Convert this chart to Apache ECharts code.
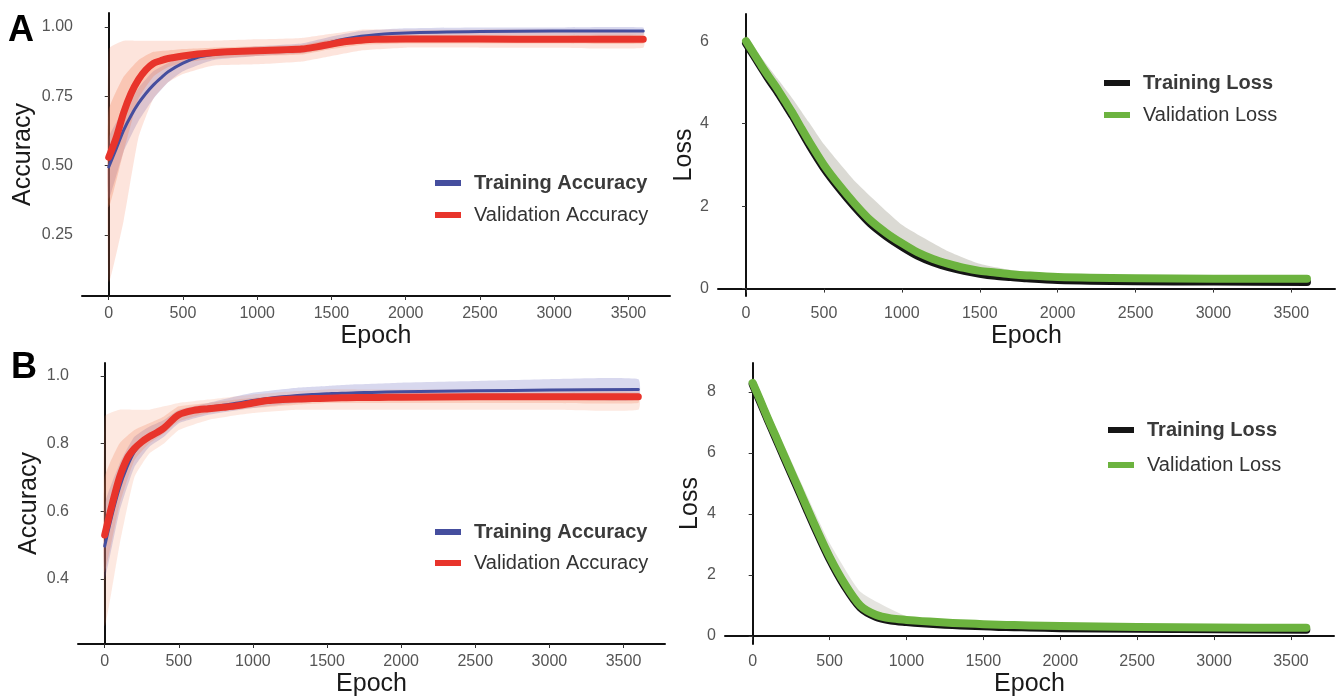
<!DOCTYPE html>
<html>
<head>
<meta charset="utf-8">
<script src="https://cdn.jsdelivr.net/npm/echarts@6/dist/echarts.min.js"></script>
<style>
html,body{margin:0;padding:0;background:#ffffff;}
#chart{width:1336px;height:700px;}
</style>
</head>
<body>
<div id="chart"></div>
<script>
// ---------- data ----------
const epochs = [0,50,100,150,200,250,300,350,400,500,600,700,800,900,1000,1100,1200,1300,1400,1500,1600,1700,1800,2000,2500,3000,3600];
const xTicks = [0,500,1000,1500,2000,2500,3000,3500];
const accTicksA = [0.25,0.5,0.75,1.0];
const lossTicksA = [0,2,4,6];
const accTicksB = [0.4,0.6,0.8,1.0];
const lossTicksB = [0,2,4,6,8];

const trainAccA = [0.495,0.56,0.627,0.68,0.724,0.76,0.79,0.815,0.838,0.869,0.89,0.9,0.905,0.909,0.912,0.915,0.918,0.922,0.93,0.945,0.957,0.966,0.972,0.978,0.983,0.985,0.985];
const valAccA   = [0.53,0.6,0.69,0.76,0.81,0.845,0.868,0.878,0.886,0.895,0.902,0.907,0.91,0.912,0.914,0.916,0.918,0.92,0.928,0.938,0.947,0.952,0.955,0.956,0.956,0.955,0.955];
const trainLossA = [5.95,5.65,5.35,5.05,4.78,4.48,4.18,3.85,3.52,2.92,2.42,1.97,1.57,1.27,1.02,0.8,0.64,0.52,0.43,0.36,0.31,0.28,0.25,0.21,0.18,0.17,0.16];
const valLossA   = [6.0,5.7,5.4,5.12,4.85,4.55,4.25,3.92,3.6,3.0,2.5,2.05,1.65,1.35,1.1,0.88,0.72,0.6,0.5,0.43,0.39,0.35,0.32,0.28,0.25,0.24,0.24];
const trainAccB = [0.497,0.59,0.67,0.73,0.775,0.8,0.82,0.835,0.85,0.885,0.9,0.907,0.913,0.92,0.927,0.933,0.938,0.942,0.945,0.947,0.949,0.95,0.951,0.953,0.956,0.958,0.96];
const valAccB   = [0.53,0.62,0.7,0.755,0.785,0.805,0.82,0.832,0.846,0.885,0.898,0.903,0.907,0.912,0.92,0.927,0.93,0.932,0.933,0.934,0.935,0.936,0.936,0.937,0.938,0.938,0.938];
const trainLossB = [8.25,7.66,7.06,6.48,5.9,5.32,4.75,4.17,3.6,2.52,1.62,0.93,0.63,0.51,0.46,0.42,0.39,0.36,0.34,0.32,0.3,0.29,0.28,0.26,0.24,0.22,0.21];
const valLossB   = [8.3,7.72,7.12,6.55,5.97,5.4,4.83,4.25,3.68,2.6,1.7,1.0,0.7,0.58,0.53,0.49,0.46,0.43,0.41,0.39,0.37,0.36,0.35,0.33,0.3,0.28,0.27];

// spread of the individual runs (ribbons)
const bandEpochs = [0,100,200,300,400,500,700,1000,1300,1500,1700,2000,2500,3000,3600];
const valAccA_outerLo = [0.08,0.3,0.6,0.74,0.8,0.83,0.86,0.865,0.875,0.895,0.915,0.925,0.925,0.925,0.925];
const valAccA_outerHi = [0.92,0.95,0.95,0.95,0.95,0.95,0.95,0.955,0.96,0.975,0.99,0.99,0.99,0.99,0.985];
const valAccA_innerLo = [0.35,0.55,0.74,0.82,0.855,0.87,0.885,0.895,0.9,0.92,0.935,0.94,0.94,0.94,0.94];
const valAccA_innerHi = [0.7,0.82,0.88,0.91,0.915,0.92,0.925,0.93,0.935,0.955,0.965,0.97,0.97,0.97,0.97];
const trainAccA_lo = [0.38,0.55,0.66,0.74,0.8,0.84,0.88,0.895,0.905,0.925,0.95,0.965,0.97,0.97,0.97];
const trainAccA_hi = [0.6,0.7,0.78,0.84,0.87,0.895,0.915,0.93,0.94,0.965,0.985,0.995,0.998,0.998,0.998];
const trainLossA_lo = [5.85,5.25,4.65,4.05,3.45,2.85,1.9,0.98,0.5,0.36,0.28,0.22,0.18,0.16,0.15];
const trainLossA_hi = [6.15,5.6,5.1,4.6,4.05,3.5,2.6,1.55,0.9,0.6,0.45,0.36,0.31,0.29,0.28];
const valAccB_outerLo = [0.26,0.5,0.7,0.77,0.8,0.84,0.87,0.89,0.9,0.9,0.9,0.9,0.9,0.9,0.9];
const valAccB_outerHi = [0.88,0.9,0.9,0.9,0.91,0.92,0.93,0.945,0.955,0.96,0.96,0.96,0.96,0.96,0.96];
const valAccB_innerLo = [0.42,0.62,0.75,0.8,0.83,0.865,0.89,0.905,0.915,0.92,0.92,0.92,0.92,0.92,0.92];
const valAccB_innerHi = [0.7,0.8,0.84,0.86,0.88,0.91,0.92,0.935,0.945,0.948,0.95,0.95,0.95,0.95,0.95];
const trainAccB_lo = [0.4,0.6,0.73,0.79,0.82,0.86,0.885,0.905,0.92,0.925,0.93,0.93,0.93,0.93,0.93];
const trainAccB_hi = [0.62,0.74,0.82,0.85,0.87,0.9,0.92,0.95,0.965,0.97,0.975,0.98,0.985,0.99,0.99];
const trainLossB_lo = [8.15,6.95,5.75,4.6,3.45,2.4,0.85,0.45,0.35,0.32,0.29,0.26,0.23,0.21,0.2];
const trainLossB_hi = [8.5,7.4,6.3,5.2,4.1,3.05,1.45,0.65,0.48,0.44,0.41,0.38,0.34,0.32,0.31];

// ---------- styling ----------
const FONT = "'Liberation Sans', Arial, Helvetica, sans-serif";
const BLUE = '#454e9e', RED = '#e8342b', GREEN = '#6cb33f', BLACK = '#151515';
const ORANGE_BAND = '#f47a4e', BLUE_BAND = '#5a5cb8', GRAY_BAND = '#6f6a52';

function meanLine(name, g, ys, color, width, z) {
  return {
    type: 'line', name: name, xAxisIndex: g, yAxisIndex: g,
    data: epochs.map((e, i) => [e, ys[i]]),
    symbol: 'none', smooth: 0.3, color: color, silent: true,
    lineStyle: { color: color, width: width, cap: 'round', join: 'round' },
    z: z
  };
}
// ribbon between lo and hi, drawn through the axis scales with api.coord
function band(g, lo, hi, color, opacity, z) {
  return {
    type: 'custom', xAxisIndex: g, yAxisIndex: g, silent: true, z: z,
    data: [[bandEpochs[0], lo[0]]],
    renderItem: function (params, api) {
      const top = bandEpochs.map((e, i) => api.coord([e, hi[i]]));
      const bot = bandEpochs.map((e, i) => api.coord([e, lo[i]])).reverse();
      return {
        type: 'polygon',
        shape: { points: top.concat(bot), smooth: 0.15 },
        style: { fill: color, opacity: opacity }
      };
    }
  };
}

const grids = [
  { left: 82, top: 13, width: 588, height: 283 },
  { left: 718, top: 14, width: 617, height: 282 },
  { left: 78, top: 363, width: 587, height: 281 },
  { left: 725, top: 363, width: 609, height: 281 }
];
const yRanges = [[0.03, 1.05], [-0.18, 6.66], [0.208, 1.038], [-0.26, 8.95]];
const yTickSets = [accTicksA, lossTicksA, accTicksB, lossTicksB];
const yNames = ['Accuracy', 'Loss', 'Accuracy', 'Loss'];
const yNameGaps = [46, 20, 36, 22];
const yFormat = [v => v.toFixed(2), v => String(v), v => v.toFixed(1), v => String(v)];

const axisLineStyle = { show: true, lineStyle: { color: '#111', width: 2 } };

const xAxes = grids.map((g, i) => ({
  type: 'value', gridIndex: i, min: -180, max: 3780,
  name: 'Epoch', nameLocation: 'middle', nameGap: 28,
  nameTextStyle: { fontSize: 25, color: '#1a1a1a', fontFamily: FONT },
  axisLine: axisLineStyle,
  axisTick: { show: true, customValues: xTicks, length: 4, lineStyle: { color: '#333', width: 1 } },
  axisLabel: { customValues: xTicks, fontSize: 16, color: '#555', margin: 10, fontFamily: FONT,
               formatter: v => String(v) },
  splitLine: { show: false }
}));
const yAxes = grids.map((g, i) => ({
  type: 'value', gridIndex: i, min: yRanges[i][0], max: yRanges[i][1],
  name: yNames[i], nameLocation: 'middle', nameGap: yNameGaps[i],
  nameTextStyle: { fontSize: 25, color: '#1a1a1a', fontFamily: FONT },
  axisLine: axisLineStyle,
  axisTick: { show: true, customValues: yTickSets[i], length: 4, lineStyle: { color: '#333', width: 1 } },
  axisLabel: { customValues: yTickSets[i], fontSize: 16, color: '#555', margin: 9, fontFamily: FONT,
               formatter: yFormat[i] },
  splitLine: { show: false }
}));

function legendFmt(name) {
  return name.indexOf('Training') === 0 ? '{b|' + name + '}' : '{n|' + name + '}';
}
function legend(left, top, gap, names) {
  return {
    orient: 'vertical', left: left, top: top, itemGap: gap, padding: 0,
    itemWidth: 26, itemHeight: 6, icon: 'rect', selectedMode: false,
    data: names, formatter: legendFmt,
    textStyle: {
      fontFamily: FONT, fontSize: 20, lineHeight: 22, color: '#333',
      rich: {
        b: { fontFamily: FONT, fontSize: 20, lineHeight: 22, fontWeight: 'bold', color: '#3a3a3a', padding: [0, 0, 0, 8] },
        n: { fontFamily: FONT, fontSize: 20, lineHeight: 22, color: '#333', padding: [0, 0, 0, 8] }
      }
    }
  };
}

const series = [].concat(
  // A accuracy
  [band(0, trainAccA_lo, trainAccA_hi, BLUE_BAND, 0.24, 1),
   band(0, valAccA_outerLo, valAccA_outerHi, ORANGE_BAND, 0.2, 2),
   band(0, valAccA_innerLo, valAccA_innerHi, ORANGE_BAND, 0.28, 2),
   meanLine('Training Accuracy', 0, trainAccA, BLUE, 3, 5),
   meanLine('Validation Accuracy', 0, valAccA, RED, 7, 6)],
  // A loss
  [band(1, trainLossA_lo, trainLossA_hi, GRAY_BAND, 0.25, 1),
   meanLine('Training Loss', 1, trainLossA, BLACK, 8, 5),
   meanLine('Validation Loss', 1, valLossA, GREEN, 8, 6)],
  // B accuracy
  [band(2, trainAccB_lo, trainAccB_hi, BLUE_BAND, 0.24, 1),
   band(2, valAccB_outerLo, valAccB_outerHi, ORANGE_BAND, 0.17, 2),
   band(2, valAccB_innerLo, valAccB_innerHi, ORANGE_BAND, 0.24, 2),
   meanLine('Training Accuracy', 2, trainAccB, BLUE, 3, 5),
   meanLine('Validation Accuracy', 2, valAccB, RED, 7, 6)],
  // B loss
  [band(3, trainLossB_lo, trainLossB_hi, GRAY_BAND, 0.18, 1),
   meanLine('Training Loss', 3, trainLossB, BLACK, 8, 5),
   meanLine('Validation Loss', 3, valLossB, GREEN, 8, 6)]
);

const option = {
  backgroundColor: '#ffffff',
  animation: false,
  textStyle: { fontFamily: FONT },
  grid: grids,
  xAxis: xAxes,
  yAxis: yAxes,
  legend: [
    legend(435, 172, 10, ['Training Accuracy', 'Validation Accuracy']),
    legend(1104, 72, 10, ['Training Loss', 'Validation Loss']),
    legend(435, 521, 9, ['Training Accuracy', 'Validation Accuracy']),
    legend(1108, 419, 13, ['Training Loss', 'Validation Loss'])
  ],
  graphic: [
    { type: 'text', left: 8, top: 13, style: { text: 'A', fontSize: 36, fontWeight: 'bold', fill: '#000', fontFamily: FONT } },
    { type: 'text', left: 11, top: 350, style: { text: 'B', fontSize: 36, fontWeight: 'bold', fill: '#000', fontFamily: FONT } }
  ],
  series: series
};

const chart = echarts.init(document.getElementById('chart'), null, { renderer: 'canvas' });
chart.setOption(option);
</script>
</body>
</html>
